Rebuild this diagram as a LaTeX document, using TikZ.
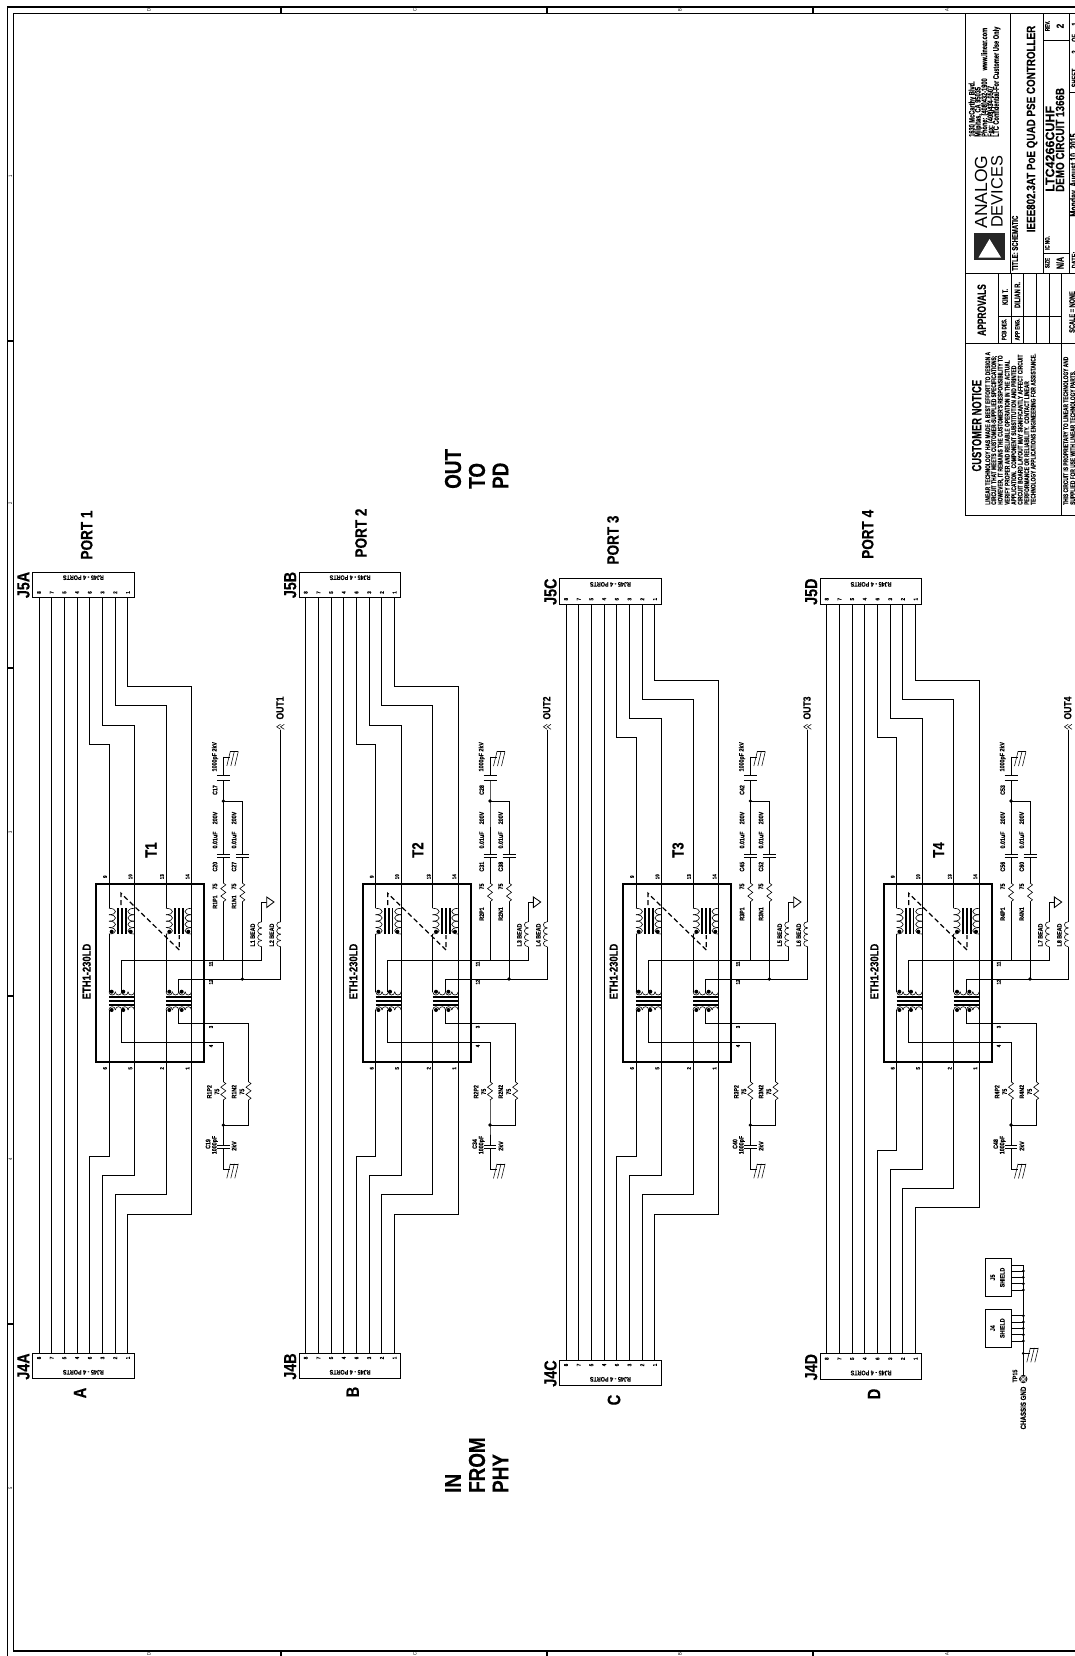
\documentclass[tikz,border=0pt]{standalone}
\usepackage{fontspec}
\setmainfont{Liberation Sans}
\newfontfamily\msf[BoldFeatures={FakeBold=0.3}]{Liberation Sans}
\newfontfamily\nsf[FakeStretch=0.82,BoldFeatures={FakeBold=0.3}]{Liberation Sans}
\newfontfamily\tsf[FakeStretch=0.7,BoldFeatures={FakeBold=0.3}]{Liberation Sans}
\newcommand\fsz[1]{\fontsize{#1}{#1}\selectfont}
\tikzset{
  wire/.style={line width=0.85pt,black,line join=miter},
  coilw/.style={line width=0.6pt,black},
  thin5/.style={line width=0.55pt,black},
  frameln/.style={line width=1.1pt,black},
  tb/.style={line width=0.9pt,black},
  txt/.style={inner sep=0pt,rotate=90,text=black},
  tiny7/.style={txt,font=\nsf\bfseries\fsz{6.5}},
  pinno/.style={txt,font=\nsf\bfseries\fsz{5.5}},
  rjtxt/.style={inner sep=0pt,rotate=180,font=\nsf\bfseries\fsz{6.6}},
  conbox/.style={draw,line width=0.9pt,minimum width=101.4pt,minimum height=25.4pt,inner sep=0pt},
  jlab/.style={txt,font=\nsf\bfseries\fsz{17.5}},
  plab/.style={txt,font=\nsf\bfseries\fsz{16.5}},
  letlab/.style={txt,font=\nsf\bfseries\fsz{18}},
  biglab/.style={txt,anchor=west,font=\nsf\bfseries\fsz{23}},
  tb6/.style={txt,font=\tsf\bfseries\fsz{6.5}},
  tb8/.style={txt,font=\tsf\bfseries\fsz{8}},
  notice/.style={txt,anchor=west,font=\tsf\bfseries\fsz{6.9}},
  addr/.style={txt,anchor=west,font=\tsf\bfseries\fsz{8.1}},
  zone/.style={inner sep=0pt,rotate=90,font=\nsf\fsz{5}},
  jdot/.style={fill=black},
}
\newcommand\vcoil[5]{\foreach \q in {1,...,#4}{\draw[coilw] ({#1},{#2+(\q-1)*#5}) .. controls ({#1+1.33*#3},{#2+(\q-1)*#5}) and ({#1+1.33*#3},{#2+\q*#5}) .. ({#1},{#2+\q*#5});}}
\newcommand\hcoil[5]{\foreach \q in {1,...,#4}{\draw[coilw] ({#1+(\q-1)*#5},{#2}) .. controls ({#1+(\q-1)*#5},{#2+1.33*#3}) and ({#1+\q*#5},{#2+1.33*#3}) .. ({#1+\q*#5},{#2});}}
\newcommand\zigr[3]{\draw[coilw] ({#1},{#2}) -- ({#1+2.5},{#2+(#3-#2)/10}) -- ({#1-2.5},{#2+3*(#3-#2)/10}) -- ({#1+2.5},{#2+5*(#3-#2)/10}) -- ({#1-2.5},{#2+7*(#3-#2)/10}) -- ({#1+2.5},{#2+9*(#3-#2)/10}) -- ({#1},{#3});}
\newcommand\gndsym[2]{\draw[wire] ({#1},{#2}) -- ({#1+7},{#2});
 \draw[thin5] ({#1+6.5},{#2-5.5}) -- ({#1+15},{#2-5.5});
 \draw[thin5] ({#1+7},{#2-5.5}) -- ({#1+3.5},{#2+9});
 \draw[thin5] ({#1+11},{#2-5.5}) -- ({#1+7.5},{#2+9});
 \draw[thin5] ({#1+15},{#2-5.5}) -- ({#1+11.5},{#2+9});}
\begin{document}
\begin{tikzpicture}[x=1pt,y=-1pt]
\useasboundingbox (0,0) rectangle (1075,1656);
\fill[white] (0,0) rectangle (1075,1656);
% sheet frame
\draw[frameln] (1080,7) -- (7.5,7) -- (7.5,1660);
\draw[frameln] (1080,13.5) -- (13.5,13.5) -- (13.5,1651) -- (1080,1651);
\foreach \tx in {281,547,813}{
  \draw[frameln] (\tx,7) -- (\tx,13.5);
  \draw[frameln] (\tx,1651) -- (\tx,1660);}
\foreach \ty in {341,668,996,1324}{\draw[frameln] (7.5,\ty) -- (13.5,\ty);}
\foreach \tx/\tl in {149/D,415/C,680/B,947/A}{
  \node[zone] (ztop\tl) at (\tx,10.3) {\tl};
  \node[zone] (zbot\tl) at (\tx,1654) {\tl};}
\foreach \ty/\tl in {176/1,503/2,832/3,1159/4,1488/5}{
  \node[zone] (zleft\tl) at (10.5,\ty) {\tl};}
% ports
\foreach \pn/\dx/\yjt/\yst/\yjb/\ysb/\Lt/\plx/\ply/\ltx/\lty/\cna/\cnb/\cnc/\cnd/\lna/\lnb/\rly in {
1/0/572/686.7/1353/1156.7/A/86.7/535/80/1393/C17/C20/C27/C19/L1/L2/902,
2/266.7/572/686.7/1353/1156.7/B/94.3/533/86/1392/C28/C31/C38/C34/L3/L4/914,
3/527/578.7/680.3/1360/1156.7/C/86/540/87/1400/C42/C45/C52/C40/L5/L6/914,
4/787.7/578.7/680.3/1353.7/1150.3/D/80/534.3/86.3/1394/C53/C56/C60/C48/L7/L8/914}{
\begin{scope}[xshift=\dx pt]
  % connectors
  \node[conbox] (J5box\Lt) at (83.4,{\yjt+12.7}) {};
  \node[conbox] (J4box\Lt) at (83.4,{\yjb+12.7}) {};
  \node[rjtxt] (J5t\Lt) at (83.4,{\yjt+5.7}) {RJ45 - 4 PORTS};
  \node[rjtxt] (J4t\Lt) at (83.4,{\yjb+19.3}) {RJ45 - 4 PORTS};
  \node[jlab] (J5n\Lt) at (23.5,{\yjt+13}) {J5\Lt};
  \node[jlab] (J4n\Lt) at (23.5,{\yjb+13.5}) {J4\Lt};
  \node[plab] (Port\pn) at (\plx,\ply) {PORT \pn};
  \node[letlab] (Let\Lt) at (\ltx,\lty) {\Lt};
  \foreach \k/\lab in {0/8,1/7,2/5,3/4,4/6,5/3,6/2,7/1}{
    \coordinate (pt\lab-\pn) at ({39+12.7*\k},{\yjt+25.4});
    \coordinate (pb\lab-\pn) at ({39+12.7*\k},\yjb);
    \node[pinno] (pa\lab-\pn) at ({39+12.7*\k},{\yjt+20.5}) {\lab};
    \node[pinno] (pc\lab-\pn) at ({39+12.7*\k},{\yjb+5}) {\lab};
  }
  \foreach \lab in {8,7,5,4}{\draw[wire] (pt\lab-\pn) -- (pb\lab-\pn);}
  % transformer box
  \node[draw,line width=1.9pt,minimum width=108pt,minimum height=178pt,inner sep=0pt] (T\pn) at (150,972.7) {};
  \node[txt,font=\nsf\bfseries\fsz{11.5}] (Tn\pn) at (86.7,971.5) {ETH1-230LD};
  \node[txt,font=\nsf\bfseries\fsz{16}] (Tl\pn) at (151,850) {T\pn};
  % column coordinates
  \coordinate (sa6-\pn) at (109,{\yst+57.5});
  \coordinate (sa3-\pn) at (134.4,{\yst+38.4});
  \coordinate (sa2-\pn) at (166,{\yst+19.2});
  \coordinate (sa1-\pn) at (191.5,\yst);
  \coordinate (sb6-\pn) at (109,\ysb);
  \coordinate (sb3-\pn) at (134.4,{\ysb+19});
  \coordinate (sb2-\pn) at (166,{\ysb+38});
  \coordinate (sb1-\pn) at (191.5,{\ysb+57.3});
  \coordinate (cua-\pn) at (109,908.3);
  \coordinate (cda-\pn) at (109,934);
  \coordinate (cta-\pn) at (109,991.7);
  \coordinate (cla-\pn) at (109,1010);
  \coordinate (cuc-\pn) at (166,908.3);
  \coordinate (cdc-\pn) at (166,934);
  \coordinate (ctc-\pn) at (166,991.7);
  \coordinate (clc-\pn) at (166,1010);
  \draw[wire] (pt6-\pn) |- (sa6-\pn) -- (cua-\pn);
  \draw[wire] (cda-\pn) -- (cta-\pn);
  \draw[wire] (cla-\pn) -- (sb6-\pn) -| (pb6-\pn);
  \draw[wire] (pt3-\pn) |- (sa3-\pn) -- (sb3-\pn) -| (pb3-\pn);
  \draw[wire] (pt2-\pn) |- (sa2-\pn) -- (cuc-\pn);
  \draw[wire] (cdc-\pn) -- (ctc-\pn);
  \draw[wire] (clc-\pn) -- (sb2-\pn) -| (pb2-\pn);
  \draw[wire] (pt1-\pn) |- (sa1-\pn) -- (sb1-\pn) -| (pb1-\pn);
  % transformer pin numbers
  \foreach \nm/\cx/\ty in {9/109/876.7,10/134.4/876.7,13/166/876.7,14/191.5/876.7,6/109/1068.3,5/134.4/1068.3,2/166/1068.3,1/191.5/1068.3}{
    \node[pinno] (tp\nm-\pn) at ({\cx-4},\ty) {\nm};}
  \foreach \nm/\ty in {11/964,12/982,3/1027,4/1046}{
    \node[pinno] (tq\nm-\pn) at (211,\ty) {\nm};}
  % vertical windings
  \vcoil{109}{908.3}{6.5}{4}{6.43}
  \vcoil{134.4}{908.3}{-6.5}{4}{6.43}
  \vcoil{166}{908.3}{6.5}{4}{6.43}
  \vcoil{191.5}{908.3}{-6.5}{4}{6.43}
  \foreach \bx in {118.3,122,125.7,175,179,183}{
    \draw[line width=1.8pt] (\bx,908.3) -- (\bx,934);}
  \foreach \dtx in {111.7,130.7,169.3,188.3}{
    \fill[jdot] (\dtx,931.7) circle[radius=2pt];}
  % horizontal windings
  \hcoil{109}{991.7}{3.3}{4}{6.35}
  \hcoil{109}{1010}{-3.3}{4}{6.35}
  \hcoil{166}{991.7}{3.3}{4}{6.38}
  \hcoil{166}{1010}{-3.3}{4}{6.38}
  \foreach \by in {997.3,1001,1005}{
    \draw[line width=1.8pt] (109,\by) -- (134.4,\by);
    \draw[line width=1.8pt] (166,\by) -- (191.5,\by);}
  \foreach \dtx in {111.7,123.3,169.3,181.7}{
    \fill[jdot] (\dtx,991.7) circle[radius=2pt];
    \fill[jdot] (\dtx,1010) circle[radius=2pt];}
  % isolation dashes
  \draw[line width=1.2pt,dash pattern=on 5pt off 3pt] (121,905) -- (121,893.3) -- (179.3,950) -- (179.3,935);
  % named junctions
  \coordinate (jtop-\pn) at (223.3,801);
  \coordinate (jtopr-\pn) at (242.3,801);
  \coordinate (j12-\pn) at (242.3,979);
  \coordinate (j11-\pn) at (223.3,960);
  \coordinate (jbot-\pn) at (223.3,1125);
  \coordinate (jbotr-\pn) at (248.5,1125);
  \coordinate (Lone-\pn) at (261.7,946.7);
  \coordinate (Ltwo-\pn) at (280.7,946.7);
  \coordinate (Rpa-\pn) at (223.3,1081.7);
  \coordinate (Rna-\pn) at (248.5,1081.7);
  % secondary wiring
  \draw[wire] (121,991.7) -- (121,960) -- (j11-\pn) -- (261.7,960) -- (Lone-\pn);
  \draw[wire] (178.7,991.7) -- (178.7,979) -- (j12-\pn) -- (280.7,979) -- (Ltwo-\pn);
  \draw[wire] (178.7,1010) -- (178.7,1023) -- (248.5,1023) -- (Rna-\pn);
  \draw[wire] (121,1010) -- (121,1042) -- (223.3,1042) -- (Rpa-\pn);
  % top RC
  \draw[wire] (223.3,756.7) -- (223.3,775.7);
  \draw[wire] (223.3,780.7) -- (jtop-\pn) -- (223.3,854.3);
  \draw[wire] (jtop-\pn) -- (jtopr-\pn) -- (242.3,854.3);
  \draw[wire] (223.3,857.6) -- (223.3,883);
  \draw[wire] (242.3,857.6) -- (242.3,883);
  \foreach \px/\pa/\pb in {223.3/775.7/780.7,223.3/854.3/857.6,242.3/854.3/857.6}{
    \draw[line width=1pt] ({\px-6.5},\pa) -- ({\px+6.5},\pa);
    \draw[line width=1pt] ({\px-6.5},\pb) -- ({\px+6.5},\pb);}
  \zigr{223.3}{883}{901.7}
  \zigr{242.3}{883}{901.7}
  \draw[wire] (223.3,901.7) -- (j11-\pn);
  \draw[wire] (242.3,901.7) -- (j12-\pn);
  \fill[jdot] (jtop-\pn) circle[radius=1.8pt];
  \fill[jdot] (j12-\pn) circle[radius=1.8pt];
  \gndsym{223.3}{757}
  % beads
  \vcoil{261.7}{921.7}{-4}{4}{6.25}
  \vcoil{280.7}{921.7}{-4}{4}{6.25}
  \draw[wire] (261.7,921.7) -- (261.7,902) -- (266.7,902);
  \draw[wire,fill=white] (266.7,897) -- (274,902) -- (266.7,907.5) -- cycle;
  \coordinate (Out-\pn) at (280.7,730);
  \draw[wire] (280.7,921.7) -- (Out-\pn);
  \draw[thin5] (280.5,724.3) -- (276.7,726.8) -- (280.5,729.3);
  \draw[thin5] (284.3,724.3) -- (280.5,726.8) -- (284.3,729.3);
  \node[txt,font=\nsf\bfseries\fsz{10.5}] (Outl\pn) at (280,708) {OUT\pn};
  % bottom RC
  \zigr{223.3}{1081.7}{1100}
  \zigr{248.5}{1081.7}{1100}
  \draw[wire] (223.3,1100) -- (jbot-\pn) -- (223.3,1145);
  \draw[wire] (248.5,1100) -- (jbotr-\pn) -- (jbot-\pn);
  \draw[line width=1pt] (217,1145) -- (229.6,1145);
  \draw[line width=1pt] (217,1148.5) -- (229.6,1148.5);
  \draw[wire] (223.3,1148.5) -- (223.3,1169.3);
  \fill[jdot] (jbot-\pn) circle[radius=1.8pt];
  \gndsym{223.3}{1169.3}
  % component labels
  \node[tiny7] (la\pn) at (215,790) {\cna};
  \node[tiny7] (lb\pn) at (215,756.7) {1000pF 2kV};
  \node[tiny7] (lc\pn) at (215,866.7) {\cnb};
  \node[tiny7] (ld\pn) at (215,840) {0.01uF};
  \node[tiny7] (le\pn) at (215,818) {200V};
  \node[tiny7] (lf\pn) at (234,866.7) {\cnc};
  \node[tiny7] (lg\pn) at (234,840) {0.01uF};
  \node[tiny7] (lh\pn) at (234,818) {200V};
  \node[tiny7] (li\pn) at (215,886.5) {75};
  \node[tiny7] (lj\pn) at (215,\rly) {R\pn P1};
  \node[tiny7] (lk\pn) at (234,886.5) {75};
  \node[tiny7] (ll\pn) at (234,\rly) {R\pn N1};
  \node[tiny7] (lm\pn) at (252.7,935) {\lna\ BEAD};
  \node[tiny7] (ln\pn) at (271.7,935) {\lnb\ BEAD};
  \node[tiny7] (lo\pn) at (209.3,1091.7) {R\pn P2};
  \node[tiny7] (lp\pn) at (217,1091.7) {75};
  \node[tiny7] (lq\pn) at (234,1091.7) {R\pn N2};
  \node[tiny7] (lr\pn) at (242,1091.7) {75};
  \node[tiny7] (ls\pn) at (208,1144) {\cnd};
  \node[tiny7] (lt\pn) at (215,1145) {1000pF};
  \node[tiny7] (lu\pn) at (234,1146) {2kV};
\end{scope}
}
% big labels
\node[biglab] (OutA) at (453,489) {OUT};
\node[biglab] (OutB) at (477,489) {TO};
\node[biglab] (OutC) at (500.5,489) {PD};
\node[biglab] (InA) at (453,1493) {IN};
\node[biglab] (InB) at (477,1493) {FROM};
\node[biglab] (InC) at (500.5,1493) {PHY};
% shields
\node[draw,line width=0.8pt,minimum width=25.7pt,minimum height=38.4pt,inner sep=0pt] (ShJ5) at (998.2,1277.5) {};
\node[draw,line width=0.8pt,minimum width=25.7pt,minimum height=38.3pt,inner sep=0pt] (ShJ4) at (998.2,1328.2) {};
\node[tiny7] (ShJ5a) at (992.7,1277.5) {J5};
\node[tiny7] (ShJ5b) at (1002.3,1277.5) {SHIELD};
\node[tiny7] (ShJ4a) at (992.7,1328.2) {J4};
\node[tiny7] (ShJ4b) at (1002.3,1328.2) {SHIELD};
\coordinate (busT) at (1023.3,1265);
\coordinate (busB) at (1023.3,1375.5);
\draw[wire] (busT) -- (busB);
\foreach \sy in {1265,1271,1277.3,1283.7,1290,1315.7,1322,1328.3,1334.7,1341}{
  \draw[wire] (1011,\sy) -- (1023.3,\sy);}
\foreach \sy in {1271,1277.3,1283.7,1290,1315.7,1322,1328.3,1334.7,1341,1353.3}{
  \fill[jdot] (1023.3,\sy) circle[radius=1.5pt];}
\gndsym{1023.3}{1353.3}
\node[draw,line width=0.8pt,circle,minimum size=7.5pt,inner sep=0pt,fill=black!55] (TPfifteen) at (1023.3,1379) {};
\draw[white,line width=0.6pt] (TPfifteen.north west) -- (TPfifteen.south east);
\draw[white,line width=0.6pt] (TPfifteen.north east) -- (TPfifteen.south west);
\node[tiny7] (TPl) at (1015,1376) {TP15};
\node[txt,font=\nsf\bfseries\fsz{7.5}] (ChGnd) at (1023.3,1408) {CHASSIS GND};
% title block
\draw[tb] (965.7,13.5) -- (965.7,515) -- (1080,515);
\draw[tb] (965.7,273) -- (1080,273);
\draw[tb] (965.7,343.5) -- (1080,343.5);
\draw[tb] (1010.7,13.5) -- (1010.7,273);
\draw[tb] (1043,13.5) -- (1043,273);
\draw[tb] (1069,13.5) -- (1069,273);
\draw[tb] (1043,40) -- (1069,40);
\draw[tb] (1043,253.5) -- (1069,253.5);
\draw[tb] (1069,92) -- (1080,92);
\foreach \ax in {998.3,1011,1023.3,1036.7,1049.3}{\draw[tb] (\ax,273) -- (\ax,343.5);}
\draw[tb] (1061.7,273) -- (1061.7,515);
\draw[tb] (998.3,316.7) -- (1061.7,316.7);
\fill[black!85] (974,232.5) rectangle (1005,260);
\fill[white] (989.5,239) -- (978.5,257.5) -- (1001,257.5) -- cycle;
\node[txt,font=\fsz{17.5}] (Logoa) at (981,192) {ANALOG};
\node[txt,font=\fsz{16.4}] (Logob) at (997,192) {DEVICES};
\node[addr] (Ada) at (972.5,137) {1630 McCarthy Blvd.};
\node[addr] (Adb) at (978.5,137) {Milpitas, CA 95035};
\node[addr] (Adc) at (985,137) {Phone: (408)432-1900\ \ \ \ \ www.linear.com};
\node[addr] (Add) at (991,137) {Fax: (408)434-0507};
\node[addr] (Ade) at (996.7,137) {LTC Confidential-For Customer Use Only};
\node[txt,anchor=west,font=\tsf\bfseries\fsz{8.5}] (Tta) at (1015,271) {TITLE: SCHEMATIC};
\node[txt,font=\nsf\bfseries\fsz{12}] (Ttb) at (1032,129) {IEEE802.3AT PoE QUAD PSE CONTROLLER};
\node[txt,anchor=west,font=\msf\bfseries\fsz{12.5}] (Ttc) at (1050,192) {LTC4266CUHF};
\node[txt,anchor=west,font=\nsf\bfseries\fsz{12}] (Ttd) at (1060,192) {DEMO CIRCUIT 1366B};
\node[tb6] (Sza) at (1047.3,263) {SIZE};
\node[txt,font=\tsf\bfseries\fsz{10}] (Szb) at (1060,263) {N/A};
\node[tb6] (Icn) at (1047.3,243) {IC NO.};
\node[tb6] (Rva) at (1047.3,26) {REV.};
\node[txt,font=\nsf\bfseries\fsz{10}] (Rvb) at (1060,26) {2};
\node[tb8] (Dta) at (1074.5,260) {DATE:};
\node[txt,font=\tsf\bfseries\fsz{10}] (Dtb) at (1074.5,175) {Monday, August 10, 2015};
\node[tb8] (Sha) at (1074.5,78) {SHEET};
\node[tb8] (Shb) at (1074.5,52) {2};
\node[tb8] (Shc) at (1074.5,38) {OF};
\node[tb8] (Shd) at (1074.5,24) {1};
\node[txt,font=\tsf\bfseries\fsz{12}] (Appr) at (981.7,310) {APPROVALS};
\node[tb6] (Apa) at (1004,329.5) {PCB DES.};
\node[tb6] (Apb) at (1017.3,329.5) {APP ENG.};
\node[tb8] (Apc) at (1005,297) {KIM T.};
\node[tb8] (Apd) at (1017.3,295) {DILIAN R.};
\node[tb8] (Scl) at (1072,312) {SCALE = NONE};
\node[txt,font=\tsf\bfseries\fsz{13.4}] (Cnt) at (976.7,425.7) {CUSTOMER NOTICE};
\node[notice] (Na) at (987.7,505) {LINEAR TECHNOLOGY HAS MADE A BEST EFFORT TO DESIGN A};
\node[notice] (Nb) at (994.2,505) {CIRCUIT THAT MEETS CUSTOMER-SUPPLIED SPECIFICATIONS;};
\node[notice] (Nc) at (1000.7,505) {HOWEVER, IT REMAINS THE CUSTOMER'S RESPONSIBILITY TO};
\node[notice] (Nd) at (1007.2,505) {VERIFY PROPER AND RELIABLE OPERATION IN THE ACTUAL};
\node[notice] (Ne) at (1013.7,505) {APPLICATION.\ \ COMPONENT SUBSTITUTION AND PRINTED};
\node[notice] (Nf) at (1020.2,505) {CIRCUIT BOARD LAYOUT MAY SIGNIFICANTLY AFFECT CIRCUIT};
\node[notice] (Ng) at (1026.7,505) {PERFORMANCE OR RELIABILITY.\ \ CONTACT LINEAR};
\node[notice] (Nh) at (1033.2,505) {TECHNOLOGY APPLICATIONS ENGINEERING FOR ASSISTANCE.};
\node[notice] (Ni) at (1065.7,505) {THIS CIRCUIT IS PROPRIETARY TO LINEAR TECHNOLOGY AND};
\node[notice] (Nj) at (1072.7,505) {SUPPLIED FOR USE WITH LINEAR TECHNOLOGY PARTS.};
\end{tikzpicture}
\end{document}
